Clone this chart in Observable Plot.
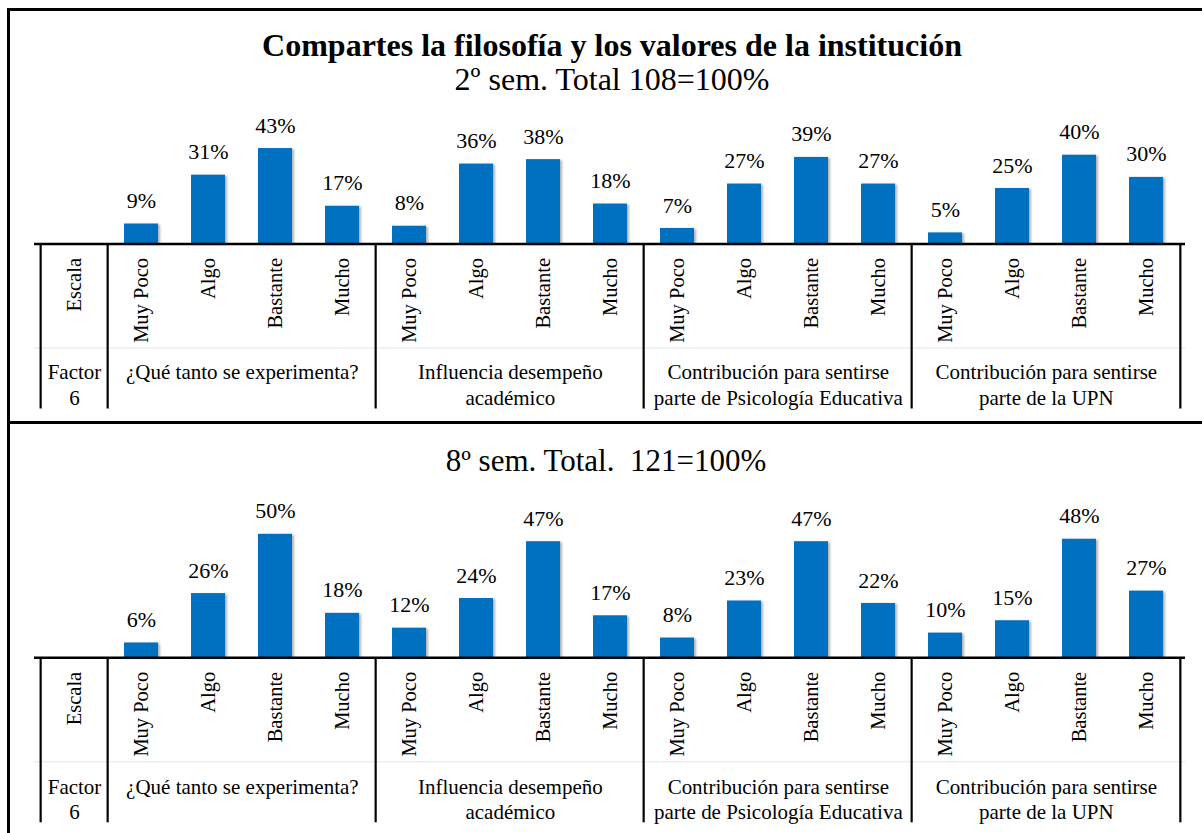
<!DOCTYPE html>
<html>
<head>
<meta charset="utf-8">
<script src="https://cdn.jsdelivr.net/npm/d3@7"></script>
<script src="https://cdn.jsdelivr.net/npm/@observablehq/plot@0.6"></script>
<style>
  html, body { margin: 0; padding: 0; background: #fff; overflow: hidden; }
  #root { position: relative; width: 1202px; height: 833px; overflow: hidden; font-family: "Liberation Serif", "Times New Roman", serif; color: #000; }
  .box { position: absolute; left: 7px; width: 1300px; border-top: 3px solid #000; border-left: 3px solid #000; }
  .ttl { position: absolute; left: 0; width: 1224px; text-align: center; white-space: pre; }
  .panel { position: absolute; left: 0; }
  .panel svg, .panel svg text { font-family: "Liberation Serif", "Times New Roman", serif !important; }
  .panel svg g[aria-label="bar"] { filter: drop-shadow(2px 1px 1.2px rgba(0,0,0,0.3)); }
</style>
</head>
<body>
<div id="root">
  <div class="box" style="top:8px;height:900px;"></div>
  <div class="box" style="top:421px;height:500px;"></div>
  <div class="ttl" style="top:27px;font-size:32px;line-height:36px;font-weight:bold;">Compartes la filosofía y los valores de la institución</div>
  <div class="ttl" id="sub1" style="top:61px;font-size:32px;line-height:36px;"></div>
  <div class="ttl" id="sub2" style="top:443px;left:-6px;font-size:31px;line-height:36px;"></div>
  <div class="panel" id="p1" style="top:100px;"></div>
  <div class="panel" id="p2" style="top:482px;"></div>
</div>
<script>
// ---- data ----
const scaleLevels = ["Muy Poco", "Algo", "Bastante", "Mucho"];
const factorGroups = [
  "¿Qué tanto se experimenta?",
  "Influencia desempeño\nacadémico",
  "Contribución para sentirse\nparte de Psicología Educativa",
  "Contribución para sentirse\nparte de la UPN"
];
const headerScale = "Escala";
const headerFactor = "Factor\n6";
const subtitle2 = "2º sem. Total 108=100%";
const subtitle8 = "8º sem. Total.  121=100%";
const sem2Values = [9, 31, 43, 17, 8, 36, 38, 18, 7, 27, 39, 27, 5, 25, 40, 30];
const sem8Values = [6, 26, 50, 18, 12, 24, 47, 17, 8, 23, 47, 22, 10, 15, 48, 27];

document.getElementById("sub1").textContent = subtitle2;
document.getElementById("sub2").textContent = subtitle8;

const keys = [];
factorGroups.forEach((g, gi) => scaleLevels.forEach(s => keys.push(gi + "|" + s)));

function panel(values, pxPerPct, axisTop, labelDy) {
  // axisTop: distance (px) from svg top to the baseline axis
  const tableDepth = 166;
  const height = axisTop + tableDepth;
  const left = 34, right = 1185, width = 1202;
  const step = (right - left) / (keys.length + 1);
  const yMin = -tableDepth / pxPerPct;
  const yMax = axisTop / pxPerPct;
  const lineEnd = -165 / pxPerPct;
  const rows = keys.map((k, i) => ({key: k, level: scaleLevels[i % 4], value: values[i]}));
  const groupMid = factorGroups.map((g, gi) => ({key: keys[gi * 4 + 1], label: g}));
  const leftEdges = [headerScale, ...factorGroups.map((g, gi) => keys[gi * 4])];
  const font = {fontFamily: "Liberation Serif", fill: "#000"};
  return Plot.plot({
    width, height,
    marginLeft: left, marginRight: width - right, marginTop: 0, marginBottom: 0,
    x: {type: "band", domain: [headerScale, ...keys], paddingInner: 0.5, paddingOuter: 0.25, axis: null},
    y: {domain: [yMin, yMax], axis: null},
    style: {background: "transparent", overflow: "visible"},
    marks: [
      Plot.barY(rows, {x: "key", y: "value", fill: "#0070C0"}),
      Plot.text(rows, {x: "key", y: "value", text: d => d.value + "%", dy: -23, fontSize: 22, ...font}),
      Plot.ruleY([0], {dy: 104, stroke: "#e4e4e4", strokeWidth: 1}),
      Plot.ruleY([0], {stroke: "#000", strokeWidth: 2.5}),
      Plot.ruleX(leftEdges, {x: d => d, dx: -step / 2, y1: 0, y2: lineEnd, stroke: "#000", strokeWidth: 2.2}),
      Plot.ruleX([keys[keys.length - 1]], {x: d => d, dx: step / 2, y1: 0, y2: lineEnd, stroke: "#000", strokeWidth: 2.2}),
      Plot.text(rows, {x: "key", y: 0, text: "level", rotate: -90, textAnchor: "end", dy: 14, fontSize: 20.5, ...font}),
      Plot.text([headerScale], {x: d => d, y: 0, text: d => d, rotate: -90, textAnchor: "end", dy: 14, fontSize: 20.5, ...font}),
      Plot.text([headerFactor], {x: () => headerScale, y: 0, text: d => d, lineAnchor: "top", lineHeight: 1.2, dy: labelDy, fontSize: 21, ...font}),
      Plot.text(groupMid, {x: "key", y: 0, text: "label", dx: step / 2, lineAnchor: "top", lineHeight: 1.2, dy: labelDy, fontSize: 21, ...font})
    ]
  });
}

document.getElementById("p1").appendChild(panel(sem2Values, 2.22, 143.5, 117.5));
document.getElementById("p2").appendChild(panel(sem8Values, 2.47, 175.3, 118.5));
</script>
</body>
</html>
